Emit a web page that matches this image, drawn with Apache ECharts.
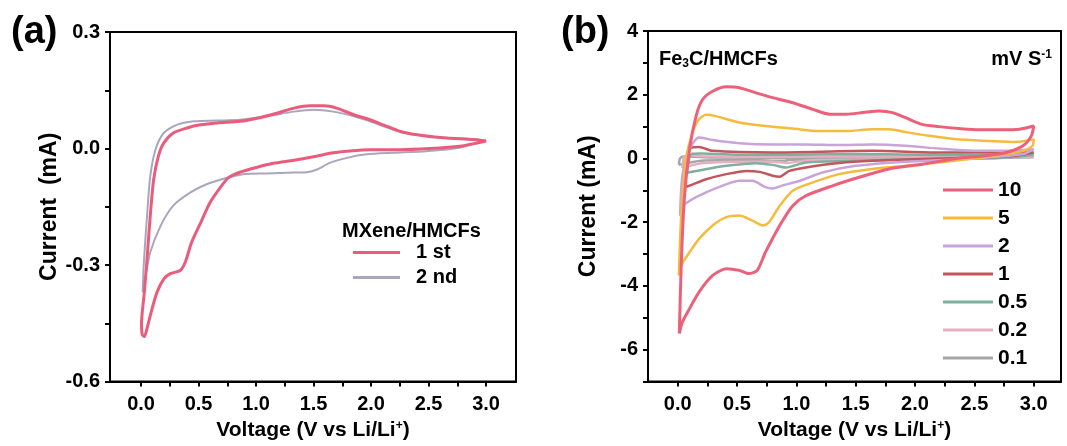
<!DOCTYPE html>
<html>
<head>
<meta charset="utf-8">
<script src="https://cdn.jsdelivr.net/npm/echarts@6/dist/echarts.min.js"></script>
<style>
  html, body { margin: 0; padding: 0; background: #fff; }
  #main { width: 1067px; height: 446px; }
</style>
</head>
<body>
<div id="main"></div>
<script>
// tick labels
var xTicks = [0, 0.5, 1, 1.5, 2, 2.5, 3];
var xMinor = [0.25, 0.75, 1.25, 1.75, 2.25, 2.75];
var yTicksA = [-0.6, -0.3, 0, 0.3];
var yMinorA = [-0.45, -0.15, 0.15];
var yTicksB = [-6, -4, -2, 0, 2, 4];
var yMinorB = [-7, -5, -3, -1, 1, 3];

// (a) MXene/HMCFs, cycle 1 and 2  [V, mA]
var cycle1 = [
  [3.0,0.019],[2.77,0.006],[2.51,0.0],[2.25,-0.003],[1.99,-0.003],[1.79,-0.007],[1.67,-0.011],
  [1.50,-0.021],[1.33,-0.03],[1.15,-0.038],[1.01,-0.048],[0.86,-0.061],[0.76,-0.075],[0.69,-0.10],
  [0.60,-0.139],[0.52,-0.19],[0.44,-0.241],[0.385,-0.292],[0.34,-0.314],[0.255,-0.322],[0.20,-0.335],
  [0.14,-0.369],[0.096,-0.412],[0.052,-0.463],[0.029,-0.484],[0.009,-0.478],[0.004,-0.45],
  [0.029,-0.369],[0.052,-0.284],[0.08,-0.173],[0.11,-0.079],[0.15,-0.02],[0.197,0.014],[0.28,0.04],
  [0.40,0.053],[0.515,0.061],[0.66,0.066],[0.86,0.07],[1.01,0.078],[1.18,0.091],[1.33,0.104],
  [1.47,0.11],[1.59,0.11],[1.70,0.104],[1.85,0.087],[1.99,0.074],[2.14,0.057],[2.28,0.042],
  [2.46,0.033],[2.66,0.027],[2.89,0.023],[3.0,0.019]
];
var cycle2 = [
  [3.0,0.021],[2.77,0.002],[2.48,-0.007],[2.19,-0.011],[1.96,-0.015],[1.79,-0.024],[1.64,-0.037],
  [1.53,-0.054],[1.44,-0.061],[1.33,-0.062],[1.09,-0.064],[0.89,-0.066],[0.75,-0.075],[0.57,-0.092],
  [0.43,-0.113],[0.28,-0.147],[0.17,-0.199],[0.08,-0.267],[0.04,-0.327],[0.014,-0.37],
  [0.023,-0.30],[0.052,-0.173],[0.08,-0.071],[0.125,-0.003],[0.197,0.04],[0.31,0.061],[0.46,0.07],
  [0.66,0.072],[0.86,0.074],[1.09,0.083],[1.33,0.095],[1.50,0.10],[1.67,0.095],[1.85,0.083],
  [1.99,0.07],[2.25,0.044],[2.54,0.03],[2.83,0.025],[3.0,0.021]
];

// (b) Fe3C/HMCFs at several scan rates (mV/s)  [V, mA]
var rate10 = [
  [0.014,-5.49],[0.03,-3.35],[0.056,-1.27],[0.1,0.29],[0.155,1.33],[0.21,1.85],[0.295,2.11],
  [0.41,2.25],[0.52,2.22],[0.66,2.06],[0.80,1.91],[0.97,1.75],[1.14,1.54],[1.28,1.39],[1.42,1.39],
  [1.56,1.44],[1.70,1.49],[1.81,1.44],[1.92,1.28],[2.06,1.07],[2.2,1.0],[2.37,0.94],[2.54,0.90],
  [2.74,0.90],[2.88,0.92],[3.0,1.02],
  [2.98,0.71],[2.91,0.40],[2.77,0.19],[2.57,0.08],[2.35,0.0],[2.06,-0.18],[1.78,-0.33],[1.53,-0.59],
  [1.31,-0.85],[1.08,-1.17],[0.97,-1.48],[0.86,-2.10],[0.74,-2.94],[0.67,-3.51],[0.60,-3.61],
  [0.52,-3.51],[0.41,-3.46],[0.295,-3.67],[0.18,-4.19],[0.10,-4.71],[0.04,-5.13],[0.014,-5.49]
];
var rate5 = [
  [0.01,-3.67],[0.03,-1.79],[0.07,-0.02],[0.126,0.81],[0.18,1.23],[0.24,1.37],[0.32,1.33],
  [0.52,1.13],[0.74,1.02],[0.97,0.94],[1.19,0.86],[1.42,0.86],[1.64,0.92],[1.78,0.92],[1.92,0.83],
  [2.12,0.71],[2.35,0.60],[2.63,0.55],[2.85,0.52],[3.0,0.60],
  [2.99,0.40],[2.91,0.24],[2.77,0.14],[2.49,0.0],[2.2,-0.125],[1.92,-0.23],[1.64,-0.33],[1.36,-0.49],
  [1.14,-0.75],[0.97,-1.01],[0.86,-1.48],[0.77,-2.0],[0.72,-2.10],[0.63,-1.95],[0.52,-1.79],
  [0.41,-1.84],[0.295,-2.10],[0.18,-2.52],[0.10,-2.94],[0.03,-3.35],[0.01,-3.67]
];
var rate2 = [
  [0.02,-1.8],[0.04,-0.54],[0.10,0.29],[0.18,0.66],[0.295,0.58],[0.52,0.48],[0.80,0.44],
  [1.08,0.44],[1.36,0.42],[1.64,0.44],[1.92,0.40],[2.2,0.31],[2.49,0.24],[2.77,0.24],[3.0,0.29],
  [2.91,0.14],[2.49,0.0],[1.92,-0.10],[1.50,-0.23],[1.22,-0.44],[1.03,-0.70],[0.88,-0.85],
  [0.80,-0.94],[0.74,-0.90],[0.63,-0.70],[0.52,-0.70],[0.38,-0.85],[0.24,-1.06],[0.126,-1.27],
  [0.04,-1.5],[0.02,-1.8]
];
var rate1 = [
  [0.06,-0.9],[0.07,-0.23],[0.10,0.30],[0.18,0.36],[0.295,0.24],[0.80,0.19],[1.64,0.24],
  [2.2,0.19],[3.0,0.19],
  [2.77,0.06],[2.2,0.0],[1.64,-0.07],[1.36,-0.14],[1.08,-0.28],[0.94,-0.39],[0.86,-0.57],
  [0.80,-0.54],[0.69,-0.42],[0.58,-0.39],[0.41,-0.49],[0.24,-0.65],[0.10,-0.85],[0.06,-0.9]
];
var rate05 = [
  [0.08,-0.45],[0.09,-0.1],[0.12,0.15],[0.2,0.16],[0.5,0.12],[1.0,0.12],[1.5,0.14],[2.0,0.12],
  [2.5,0.1],[3.0,0.12],
  [2.8,0.04],[2.5,0.0],[2.0,-0.03],[1.5,-0.07],[1.08,-0.125],[0.91,-0.28],[0.8,-0.2],[0.66,-0.15],
  [0.41,-0.23],[0.2,-0.36],[0.08,-0.45]
];
var rate02 = [
  [0.04,-0.3],[0.05,0.0],[0.08,0.1],[0.2,0.07],[0.8,0.05],[1.6,0.07],[2.4,0.05],[3.0,0.07],
  [2.6,0.0],[1.8,-0.03],[1.1,-0.06],[0.92,-0.14],[0.8,-0.1],[0.5,-0.1],[0.2,-0.15],[0.04,-0.3]
];
var rate01 = [
  [0.01,-0.2],[0.02,0.0],[0.05,0.06],[0.3,0.03],[1.0,0.02],[2.0,0.03],[3.0,0.04],
  [2.4,0.0],[1.5,-0.02],[0.95,-0.04],[0.9,-0.07],[0.6,-0.05],[0.2,-0.07],[0.01,-0.2]
];

var bold = { fontFamily: 'Liberation Sans', fontWeight: 'bold', color: '#000' };
var xRange = [[-0.27, 3.26], [-0.25, 3.23]];
var yRange = [[-0.6, 0.3], [-7, 4]];
var supRich = { sup: Object.assign({ fontSize: 12, verticalAlign: 'top', padding: [0, 0, 10, 0] }, bold) };

function allTicks(major, minor) {
  return major.concat(minor).sort(function (a, b) { return a - b; });
}
// label values nudged a hair toward zero (stays inside min/max) so the ticks there still get drawn
function labelVals(vals) {
  return vals.map(function (v) { return v > 0 ? v - 1e-6 : v + 1e-6; });
}

function xAxisFor(grid) {
  return {
    type: 'value', gridIndex: grid, position: 'bottom', min: xRange[grid][0], max: xRange[grid][1],
    name: 'Voltage (V vs Li/Li{sup|+})', nameLocation: 'middle', nameGap: 34,
    nameTextStyle: Object.assign({ fontSize: 21, rich: supRich }, bold),
    splitLine: { show: false },
    axisLine: { show: true, onZero: false, lineStyle: { color: '#000', width: 2 } },
    axisTick: { show: true, length: 5, lineStyle: { color: '#000', width: 2 }, customValues: allTicks(xTicks, xMinor) },
    axisLabel: Object.assign({ fontSize: 20, margin: 13, customValues: labelVals(xTicks), formatter: function (v) { return v.toFixed(1); } }, bold)
  };
}
function yAxisFor(grid, ticks, minor, fmt, gap) {
  return {
    type: 'value', gridIndex: grid, position: 'left', min: yRange[grid][0], max: yRange[grid][1],
    name: grid === 0 ? 'Current  (mA)' : 'Current (mA)', nameLocation: 'middle', nameGap: gap,
    nameTextStyle: Object.assign({ fontSize: 23 }, bold),
    splitLine: { show: false },
    axisLine: { show: true, onZero: false, lineStyle: { color: '#000', width: 2 } },
    axisTick: { show: true, length: 5, lineStyle: { color: '#000', width: 2 }, customValues: allTicks(ticks, minor) },
    axisLabel: Object.assign({ fontSize: 20, margin: 10, customValues: labelVals(ticks), formatter: fmt }, bold)
  };
}

function cv(name, data, grid, color, width) {
  return {
    name: name, type: 'line', data: data, xAxisIndex: grid, yAxisIndex: grid,
    smooth: 0.25, showSymbol: false, symbol: 'none', animation: false,
    lineStyle: { color: color, width: width }, itemStyle: { color: color }
  };
}

var chart = echarts.init(document.getElementById('main'));

chart.setOption({
  backgroundColor: '#fff',
  animation: false,
  grid: [
    { left: 110, top: 32, width: 406, height: 354, show: true, borderColor: '#000', borderWidth: 2 },
    { left: 648, top: 31, width: 413, height: 353, show: true, borderColor: '#000', borderWidth: 2 }
  ],
  xAxis: [xAxisFor(0), xAxisFor(1)],
  yAxis: [
    yAxisFor(0, yTicksA, yMinorA, function (v) { return v.toFixed(1); }, 41),
    yAxisFor(1, yTicksB, yMinorB, function (v) { return String(Math.round(v)); }, 48)
  ],
  title: [
    { text: '(a)', left: 6, top: 9, textStyle: Object.assign({ fontSize: 38 }, bold) },
    { text: '(b)', left: 556, top: 9, textStyle: Object.assign({ fontSize: 38 }, bold) },
    { text: 'MXene/HMCFs', left: 337, top: 216, textStyle: Object.assign({ fontSize: 20 }, bold) },
    { text: 'Fe{sub|3}C/HMCFs', left: 654, top: 44,
      textStyle: Object.assign({ fontSize: 20, rich: { sub: Object.assign({ fontSize: 12, verticalAlign: 'bottom', padding: [9, 0, 0, 0] }, bold) } }, bold) },
    { text: 'mV S{sup|-1}', right: 10, top: 44,
      textStyle: Object.assign({ fontSize: 20, rich: { sup: Object.assign({ fontSize: 12, verticalAlign: 'top', padding: [0, 0, 9, 0] }, bold) } }, bold) }
  ],
  legend: [
    { data: ['1 st', '2 nd'], orient: 'vertical', left: 353, top: 240, padding: 0, icon: 'rect',
      itemWidth: 47, itemHeight: 3, itemGap: 0,
      formatter: function (n) { return '  ' + n; },
      textStyle: Object.assign({ fontSize: 20, lineHeight: 25 }, bold) },
    { data: ['10', '5', '2', '1', '0.5', '0.2', '0.1'], orient: 'vertical', left: 943, top: 176, padding: 0, icon: 'rect',
      itemWidth: 50, itemHeight: 3, itemGap: 0,
      textStyle: Object.assign({ fontSize: 21, lineHeight: 28 }, bold) }
  ],
  series: [
    cv('2 nd', cycle2, 0, '#a9a6bd', 2),
    cv('1 st', cycle1, 0, '#ea5c7c', 3),
    cv('0.1', rate01, 1, '#a6a6a6', 2.5),
    cv('0.2', rate02, 1, '#e6b0c3', 2.5),
    cv('0.5', rate05, 1, '#7fb09e', 2.5),
    cv('1', rate1, 1, '#c2565d', 2.5),
    cv('2', rate2, 1, '#c9a4d8', 2.5),
    cv('5', rate5, 1, '#f6bb3c', 2.5),
    cv('10', rate10, 1, '#ec6079', 3)
  ]
});
</script>
</body>
</html>
